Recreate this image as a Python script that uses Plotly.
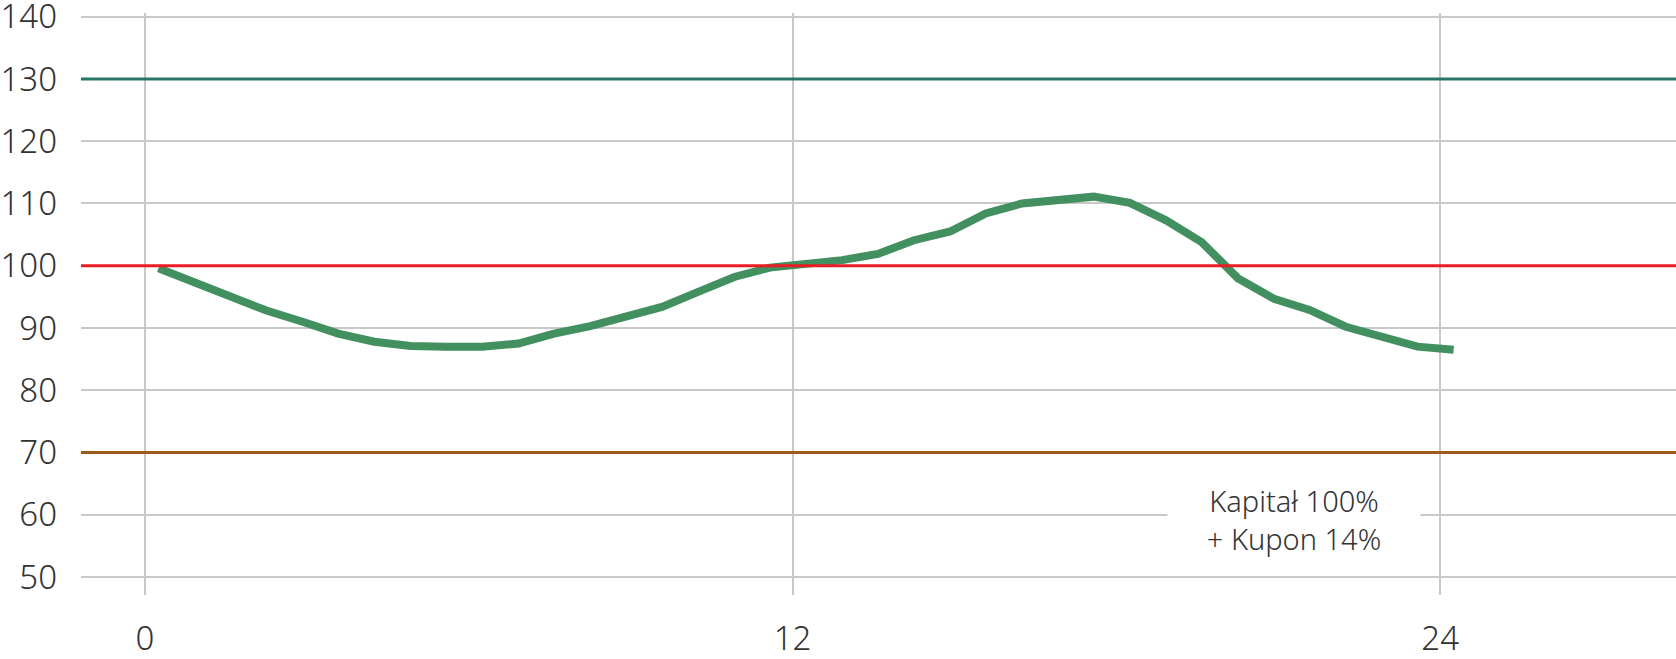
import plotly.graph_objects as go

# data
months = [0.25, 0.92, 1.58, 2.25, 2.92, 3.58, 4.25, 4.92, 5.58, 6.25, 6.92, 7.58,
          8.25, 8.92, 9.58, 10.25, 10.92, 11.58, 12.25, 12.92, 13.58, 14.25, 14.92,
          15.58, 16.25, 16.92, 17.58, 18.25, 18.92, 19.58, 20.25, 20.92, 21.58,
          22.25, 22.92, 23.58, 24.25]
values = [99.6, 97.4, 95.0, 92.8, 91.0, 89.1, 87.8, 87.1, 87.0, 87.0, 87.5, 89.1,
          90.3, 91.8, 93.4, 95.8, 98.2, 99.7, 100.2, 100.9, 101.9, 104.1, 105.5,
          108.4, 110.0, 110.5, 111.1, 110.1, 107.3, 103.8, 98.0, 94.7, 92.9,
          90.2, 88.6, 87.0, 86.5]
levels = [130, 100, 70]
level_colors = ["#28766a", "#ec1c24", "#9e5a1a"]
x_ticks = [0, 12, 24]
y_ticks = [50, 60, 70, 80, 90, 100, 110, 120, 130, 140]
note_text = "Kapitał 100%<br>+ Kupon 14%"
note_x, note_y = 21.29, 59.3

FONT = "Noto Sans"
fig = go.Figure()

fig.add_trace(go.Scatter(x=months, y=values, mode="lines",
                         line=dict(color="#428f5f", width=8, shape="linear"),
                         hoverinfo="skip", showlegend=False))

for lv, col in zip(levels, level_colors):
    fig.add_shape(type="line", xref="paper", yref="y", x0=0, x1=1, y0=lv, y1=lv,
                  line=dict(color=col, width=3), layer="above")

fig.add_annotation(x=note_x, y=note_y, xref="x", yref="y", text=note_text,
                   showarrow=False, align="center", bgcolor="white",
                   width=232, borderpad=10,
                   font=dict(family=FONT, size=29, color="#333333", weight=300))

fig.update_layout(
    width=1676, height=659,
    margin=dict(l=81, r=0, t=13.3, b=64, autoexpand=False),
    plot_bgcolor="white", paper_bgcolor="white",
    showlegend=False,
    font=dict(family=FONT, size=33, color="#333333", weight=300),
)
fig.update_xaxes(range=[-1.186, 28.37], tickvals=x_ticks, showgrid=True,
                 gridcolor="#c8c8c8", gridwidth=2, zeroline=False, showline=False,
                 ticks="", ticklabelstandoff=21, automargin=False,
                 ticklabeloverflow="allow")
fig.update_yaxes(range=[47.11, 140.6], tickvals=y_ticks, showgrid=True,
                 gridcolor="#c8c8c8", gridwidth=2, zeroline=False, showline=False,
                 ticks="", ticklabelstandoff=23, automargin=False,
                 ticklabeloverflow="allow")

fig.write_html("out.html", config={"displayModeBar": False, "staticPlot": True},
               post_script="document.body.style.margin='0';document.body.style.overflow='hidden';")
